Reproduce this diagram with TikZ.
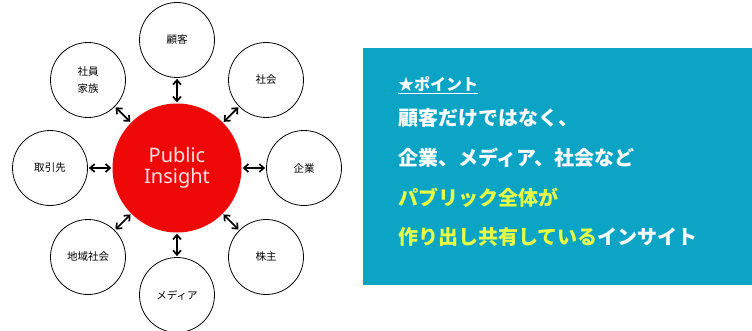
\documentclass[tikz,border=0pt]{standalone}
\usepackage{fontspec}
\setmainfont{Noto Sans}
\newfontfamily\jp{Noto Sans CJK JP}
\usetikzlibrary{arrows.meta}
\definecolor{boxblue}{RGB}{12,164,196}
\definecolor{hiyellow}{RGB}{228,255,70}
\definecolor{pired}{RGB}{238,8,8}
\definecolor{pitext}{RGB}{255,226,226}
\begin{document}
\begin{tikzpicture}[x=1pt,y=1pt,
  outer/.style={circle,draw=black,line width=0.8pt,fill=white,minimum size=75pt,inner sep=0pt,font=\jp\fontsize{10.5}{17}\selectfont,align=center},
  link/.style={{Straight Barb[length=4.5pt,width=8pt]}-{Straight Barb[length=4.5pt,width=8pt]},line width=1.7pt,shorten <=1pt,shorten >=1pt},
  line/.style={font=\jp\bfseries\fontsize{20}{24}\selectfont,anchor=west,inner sep=0pt}]
\useasboundingbox (0,0) rectangle (752,330);
\fill[white] (0,0) rectangle (752,330);
% blue panel
\node[fill=boxblue,minimum width=389pt,minimum height=237pt,inner sep=0pt,anchor=north west] (panel) at (363,282) {};
% central circle
\node[circle,fill=pired,minimum size=129pt,inner sep=0pt,align=center,text=pitext,font=\fontsize{20}{21}\selectfont] (c) at (177,162) {Public\\Insight};
% outer circles
\node[outer] (n1) at (177,290) {顧客};
\node[outer] (n2) at (266,250) {社会};
\node[outer] (n3) at (304,162) {企業};
\node[outer] (n4) at (266,73) {株主};
\node[outer] (n5) at (177,35) {メディア};
\node[outer] (n6) at (88,73) {地域社会};
\node[outer] (n7) at (50,162) {取引先};
\node[outer] (n8) at (88,250) {社員\\家族};
\foreach \n in {n1,n2,n3,n4,n5,n6,n7,n8}{
  \draw[link] (c) -- (\n);
}
% text
\node[anchor=west,inner sep=0pt,text=white,font=\jp\bfseries\fontsize{16}{18}\selectfont] (t0) at (398,245) {\underline{★ポイント}};
\node[line,text=white] (t1) at (398,212) {顧客だけではなく、};
\node[line,text=white] (t2) at (398,172) {企業、メディア、社会など};
\node[line,text=hiyellow] (t3) at (398,132) {パブリック全体が};
\node[line,text=hiyellow] (t4) at (398,93) {作り出し共有している\textcolor{white}{インサイト}};
\end{tikzpicture}
\end{document}
